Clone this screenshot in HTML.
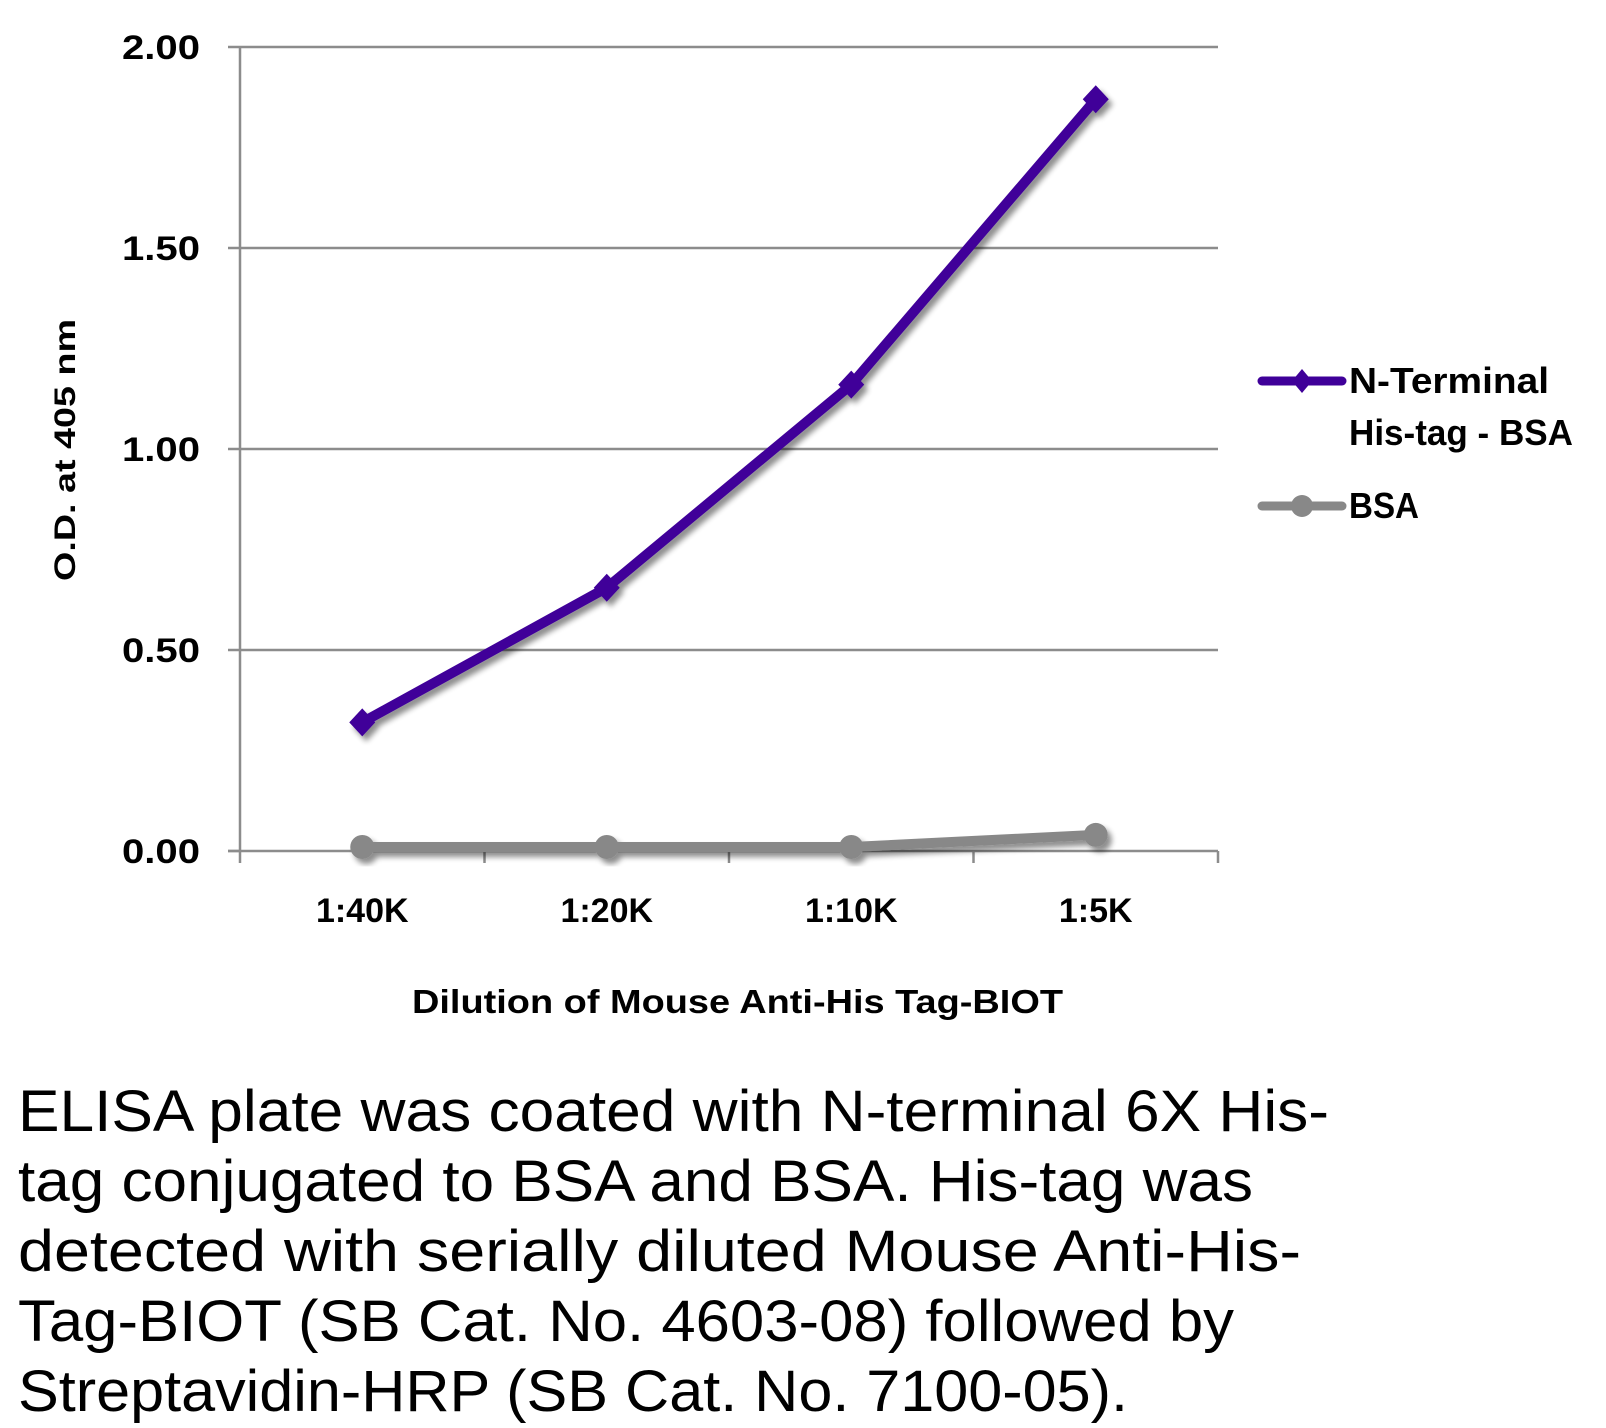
<!DOCTYPE html>
<html><head><meta charset="utf-8"><style>
html,body{margin:0;padding:0;background:#fff;}
svg{display:block;font-family:"Liberation Sans Narrow","Liberation Sans",sans-serif;}
</style></head><body>
<svg id="chart" width="1606" height="1428" viewBox="0 0 1606 1428" xmlns="http://www.w3.org/2000/svg">
<defs><filter id="sh" x="-20%" y="-20%" width="140%" height="140%"><feGaussianBlur in="SourceAlpha" stdDeviation="3"/><feOffset dx="4" dy="5"/><feComponentTransfer><feFuncA type="linear" slope="0.45"/></feComponentTransfer><feMerge><feMergeNode/><feMergeNode in="SourceGraphic"/></feMerge></filter></defs>
<g id="grid"></g><g id="axes"></g><g id="series"></g>
<text x="0" y="0" transform="translate(75,450) rotate(-90)" text-anchor="middle" font-weight="bold" font-size="30" textLength="262" lengthAdjust="spacingAndGlyphs">O.D. at 405 nm</text>
<text x="412" y="1013" font-weight="bold" font-size="33" textLength="651" lengthAdjust="spacingAndGlyphs">Dilution of Mouse Anti-His Tag-BIOT</text>
<g>
<g>
<line x1="1262" y1="381" x2="1342" y2="381" stroke="#3f0099" stroke-width="9" stroke-linecap="round"/>
<path d="M1302 369 L1312 381 L1302 393 L1292 381 Z" fill="#3f0099"/>
<text x="1349" y="393" font-weight="bold" font-size="36" textLength="200" lengthAdjust="spacingAndGlyphs">N-Terminal</text>
<text x="1349" y="445" font-weight="bold" font-size="36" textLength="224" lengthAdjust="spacingAndGlyphs">His-tag - BSA</text>
</g>
<g>
<line x1="1262" y1="506" x2="1342" y2="506" stroke="#888" stroke-width="9" stroke-linecap="round"/>
<circle cx="1302" cy="506" r="11" fill="#888"/>
<text x="1349" y="518" font-weight="bold" font-size="36" textLength="70" lengthAdjust="spacingAndGlyphs">BSA</text>
</g>
</g>
<g font-size="58">
<text x="18" y="1131" textLength="1311" lengthAdjust="spacingAndGlyphs">ELISA plate was coated with N-terminal 6X His-</text>
<text x="18" y="1201" textLength="1235" lengthAdjust="spacingAndGlyphs">tag conjugated to BSA and BSA.  His-tag was</text>
<text x="18" y="1271" textLength="1283" lengthAdjust="spacingAndGlyphs">detected with serially diluted Mouse Anti-His-</text>
<text x="18" y="1341" textLength="1216" lengthAdjust="spacingAndGlyphs">Tag-BIOT (SB Cat. No. 4603-08) followed by</text>
<text x="18" y="1411" textLength="1110" lengthAdjust="spacingAndGlyphs">Streptavidin-HRP (SB Cat. No. 7100-05).</text>
</g>
</svg>
<script>
const categories = ["1:40K","1:20K","1:10K","1:5K"];
const hisTagValues = [0.32, 0.655, 1.16, 1.87];
const bsaValues = [0.01, 0.01, 0.01, 0.04];
const yTicks = [0, 0.5, 1.0, 1.5, 2.0];
const yTickLabels = ["0.00","0.50","1.00","1.50","2.00"];

const NS = "http://www.w3.org/2000/svg";
const X0 = 240, X1 = 1218, Y0 = 851, Y1 = 47, YMAX = 2;
function xScale(i){ return X0 + (X1 - X0) / categories.length * (i + 0.5); }
function yScale(v){ return Y0 - (Y0 - Y1) * v / YMAX; }
function mk(tag, attrs, parent){ const e = document.createElementNS(NS, tag); for (const k in attrs) e.setAttribute(k, attrs[k]); parent.appendChild(e); return e; }

const grid = document.getElementById('grid');
const axes = document.getElementById('axes');
const series = document.getElementById('series');

yTicks.forEach((v, i) => {
  const y = yScale(v);
  if (v !== 0) {
    const gl = mk('line', {x1: X0, x2: X1, y1: y, y2: y, stroke: '#8c8c8c', 'stroke-width': 2.5}, grid);
    
    
  }
  const tk = mk('line', {x1: X0 - 12, x2: X0, y1: y, y2: y, stroke: '#8c8c8c', 'stroke-width': 2.5}, axes);
  
  
  const t = mk('text', {x: 200, y: y + 12, 'text-anchor': 'end', 'font-weight': 'bold', 'font-size': 34, textLength: 78, lengthAdjust: 'spacingAndGlyphs'}, axes);
  t.textContent = yTickLabels[i];
  
  
});
const ya = mk('line', {x1: X0, x2: X0, y1: Y1, y2: Y0 + 12, stroke: '#8c8c8c', 'stroke-width': 2.5}, axes);


const xa = mk('line', {x1: X0 - 12, x2: X1, y1: Y0, y2: Y0, stroke: '#8c8c8c', 'stroke-width': 2.5}, axes);


for (let i = 1; i <= categories.length; i++) {
  const x = X0 + (X1 - X0) / categories.length * i;
  const tk = mk('line', {x1: x, x2: x, y1: Y0, y2: Y0 + 12, stroke: '#8c8c8c', 'stroke-width': 2.5}, axes);
  
  
}
categories.forEach((c, i) => {
  const t = mk('text', {x: xScale(i), y: 922, 'text-anchor': 'middle', 'font-weight': 'bold', 'font-size': 34}, axes);
  t.textContent = c;
  
  
});

function drawSeries(vals, color, marker, name){
  const g = mk('g', {filter: 'url(#sh)'}, series);
  
  
  const pts = vals.map((v, i) => xScale(i) + ',' + yScale(v)).join(' ');
  const pl = mk('polyline', {points: pts, fill: 'none', stroke: color, 'stroke-width': 10, 'stroke-linejoin': 'round', 'stroke-linecap': 'round'}, g);
  
  
  vals.forEach((v, i) => {
    const x = xScale(i), y = yScale(v);
    let m;
    if (marker === 'diamond') m = mk('path', {d: `M${x} ${y-14} L${x+13} ${y} L${x} ${y+14} L${x-13} ${y} Z`, fill: color}, g);
    else m = mk('circle', {cx: x, cy: y, r: 12, fill: color}, g);
    
    
  });
}
drawSeries(bsaValues, '#888888', 'circle', 'bsa-series');
drawSeries(hisTagValues, '#3f0099', 'diamond', 'his-tag-bsa-series');
</script>
</body></html>
